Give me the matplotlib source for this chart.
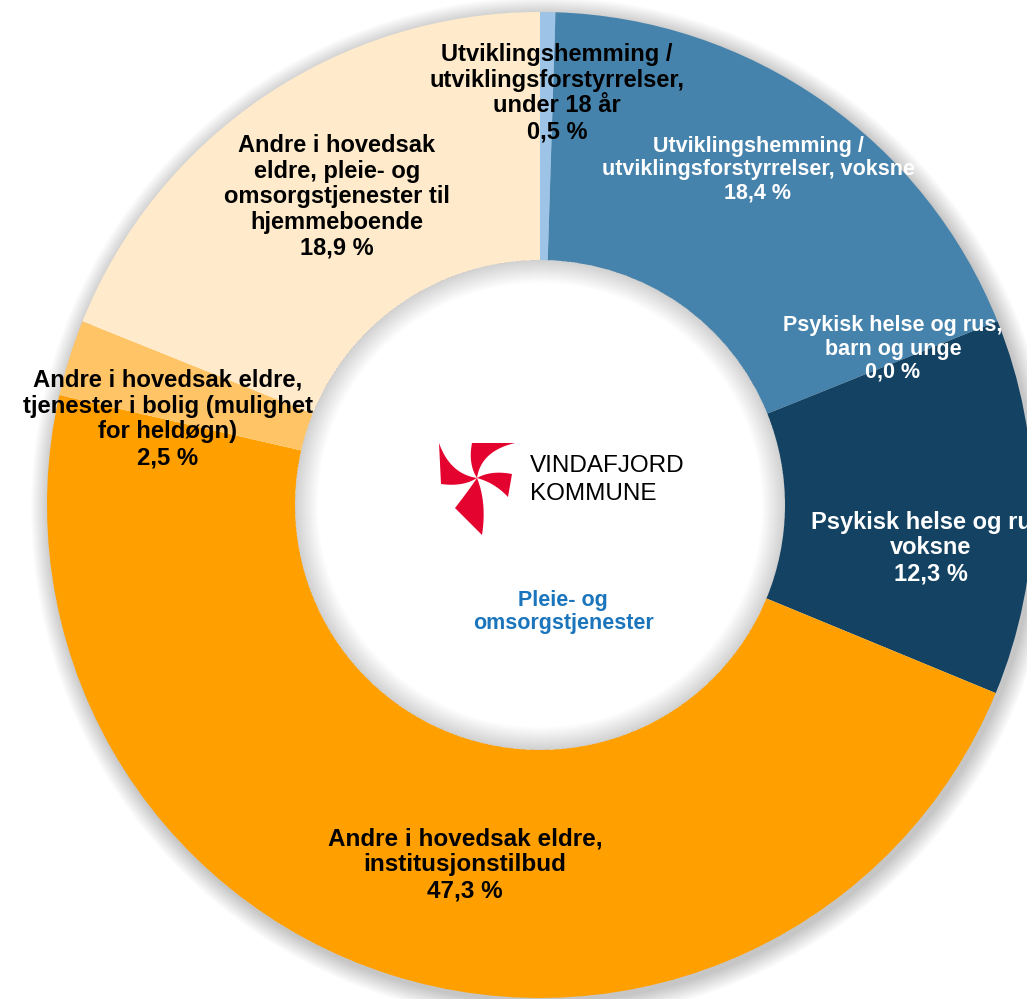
#Donut chart: Pleie- og omsorgstjenester, Vindafjord kommune
import numpy as np
import matplotlib
matplotlib.use("Agg")
import matplotlib.pyplot as plt
from matplotlib.patches import Wedge, Polygon

categories = [
    "Utviklingshemming /\nutviklingsforstyrrelser,\nunder 18 år",
    "Utviklingshemming /\nutviklingsforstyrrelser, voksne",
    "Psykisk helse og rus,\nbarn og unge",
    "Psykisk helse og rus,\nvoksne",
    "Andre i hovedsak eldre,\ninstitusjonstilbud",
    "Andre i hovedsak eldre,\ntjenester i bolig (mulighet\nfor heldøgn)",
    "Andre i hovedsak\neldre, pleie- og\nomsorgstjenester til\nhjemmeboende",
]
shares = [0.5, 18.4, 0.0, 12.3, 47.3, 2.5, 18.9]
colors = ["#9DC3E6", "#4683AC", "#4683AC", "#134263", "#FFA000", "#FFC466", "#FFEBCB"]
text_colors = ["black", "white", "white", "white", "black", "black", "black"]
font_sizes = [17, 15.5, 15.5, 17, 17.5, 17.2, 17]
# label centres in pixel coordinates (x, y from the top)
label_pos = [(557, 93), (758, 170), (893, 349), (931, 548), (465, 865), (168, 419), (337, 197)]

W, H = 1027, 999
cx, cy = 540, H - 505
R_OUT, R_IN = 493, 245

plt.rcParams['font.family'] = ['Liberation Sans', 'DejaVu Sans']

def bezier(p0, c, p1, n=20):
	t = np.linspace(0, 1, n)[:, None]
	return (1 - t) ** 2 * np.array(p0) + 2 * (1 - t) * t * np.array(c) + t ** 2 * np.array(p1)

def draw_logo(ax, lx, ly):
	'''
	Red pinwheel: each blade goes out from the centre (A), along a flat edge (B)
	and back to the centre along a hollow curve. Offsets in pixels, y up.
	'''
	blades = [
		((-5, 35), (-9, 14), (38, 35), (4, 27)),     # top
		((35, 4), (14, 8), (31, -19), (18, -5)),      # right
		((5, -57), (10, -25), (-22, -30), (-8, -12)), # bottom
		((-36, -6), (-14, -9), (-38, 35), (-27, 4)),  # left
	]
	for A, cA, B, cB in blades:
		pts = np.vstack([bezier((0, 0), cA, A), [B], bezier(B, cB, (0, 0))])
		ax.add_patch(Polygon(pts + [lx, ly], closed=True, color="#E4032E", lw=0, zorder=6))

def make_chart():
	fig = plt.figure(figsize=(W / 100, H / 100), dpi=100)
	ax = fig.add_axes([0, 0, 1, 1])

	# soft shadow outside the ring
	for k in range(1, 20):
		ax.add_patch(Wedge((cx + 3, cy - 4), R_OUT + k, 0, 360, width=k + 6,
						   color="black", alpha=0.011, lw=0, zorder=0))

	ax.pie(shares, colors=colors, startangle=90, counterclock=False,
		   center=(cx, cy), radius=R_OUT, frame=True,
		   wedgeprops=dict(width=R_OUT - R_IN, linewidth=0))
	ax.set_xlim(0, W)
	ax.set_ylim(0, H)
	ax.axis("off")

	# shadow on the inner edge of the hole
	for k in range(1, 24):
		ax.add_patch(Wedge((cx, cy), R_IN, 0, 360, width=k, color="black",
						   alpha=0.008, lw=0, zorder=3))

	for text, share, (x, y), col, fs in zip(categories, shares, label_pos,
											text_colors, font_sizes):
		value = f"{share:.1f} %".replace(".", ",")
		ax.text(x, H - y, f"{text}\n{value}", ha="center", va="center",
				color=col, fontsize=fs, fontweight="bold", linespacing=1.15,
				zorder=5)

	draw_logo(ax, 477, H - 478)
	ax.text(530, H - 466, "VINDAFJORD", ha="left", va="center", fontsize=17.5,
			color="black", zorder=6)
	ax.text(530, H - 494, "KOMMUNE", ha="left", va="center", fontsize=17.5,
			color="black", zorder=6)
	ax.text(563, H - 612, "Pleie- og\nomsorgstjenester", ha="center", va="center",
			fontsize=15.5, fontweight="bold", color="#1B75BC", linespacing=1.15,
			zorder=6)

	fig.savefig("out.png", dpi=100, facecolor="white")

if __name__ == '__main__':
	make_chart()
